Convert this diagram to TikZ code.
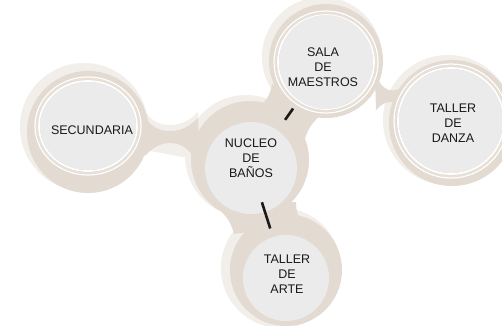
\documentclass[tikz,border=0pt]{standalone}
\usepackage{fontspec}
\setmainfont{Liberation Sans}
\definecolor{beige}{HTML}{E3DAD1}
\definecolor{halo}{HTML}{F2EEEA}
\definecolor{discc}{HTML}{EBEBEB}
\definecolor{ringc}{HTML}{E8E1DA}
\begin{document}
\begin{tikzpicture}[x=1pt,y=-1pt,
  lbl/.style={font=\fontsize{12.5}{15}\selectfont, align=center, text=black!90, inner sep=0pt},
  disc/.style={circle, fill=discc, inner sep=0pt, minimum size=#1},
  stub/.style={line width=2.6pt, black!90}]
\useasboundingbox (0,0) rectangle (502,325);
\fill[white] (0,0) rectangle (502,325);
% halos
\fill[halo] (84,127) circle (64);
\fill[halo] (246,156) circle (61);
\fill[halo] (322,57) circle (60);
\fill[halo] (448,120) circle (65);
\fill[halo] (281,268) circle (60);
\fill[halo] (143,109) .. controls (152,122) and (160,125) .. (170,125) .. controls (182,125) and (190,120) .. (198,112) -- (200,160) -- (145,150) -- cycle;
% beige blobs
\fill[beige] (88,132) circle (61);
\fill[beige] (250,160) circle (59);
\fill[beige] (326,61) circle (57);
\fill[beige] (452,123) circle (63);
\fill[beige] (286,270) circle (56);
% bridges
\fill[beige] (143,115) .. controls (152,128) and (160,131) .. (170,131) .. controls (182,131) and (190,126) .. (198,118) -- (200,168) .. controls (192,150) and (182,143) .. (170,143) .. controls (160,143) and (152,148) .. (145,156) -- cycle;
\fill[beige] (375,75) .. controls (382,88) and (388,92) .. (396,90) .. controls (400,89) and (402,86) .. (404,82) -- (404,112) .. controls (400,104) and (396,102) .. (390,102) .. controls (384,102) and (380,106) .. (376,110) -- cycle;
\fill[beige] (250,112) .. controls (266,104) and (270,96) .. (272,84) -- (332,110) .. controls (316,116) and (308,126) .. (304,142) -- cycle;
\fill[beige] (212,204) .. controls (226,214) and (231,222) .. (234,234) -- (302,224) .. controls (298,216) and (296,212) .. (296,202) -- cycle;
% rings
\foreach \cx/\cy/\rx/\ry in {88/126/48/44, 326/62/47/46, 451/121/52/52}{
  \draw[white, line width=1.2pt] (\cx,\cy) ellipse [x radius=\rx+5, y radius=\ry+5];
  \draw[ringc, line width=1.5pt] (\cx,\cy) ellipse [x radius=\rx+3.2, y radius=\ry+3.2];
  \draw[white, line width=1.8pt] (\cx,\cy) ellipse [x radius=\rx+1, y radius=\ry+1];
}
% discs
\fill[discc] (88,126) ellipse [x radius=48, y radius=44];
\node[disc=94] (salaD) at (326,62) {};
\node[disc=104] (danzaD) at (451,121) {};
\node[disc=92] (nucD) at (251,168) {};
\node[disc=86] (arteD) at (286,278) {};
% labels
\node[lbl] (sec) at (92,130) {SECUNDARIA};
\node[lbl] (nuc) at (251,158) {NUCLEO\\DE\\BAÑOS};
\node[lbl] (sala) at (323,67) {SALA\\DE\\MAESTROS};
\node[lbl] (danza) at (453,123) {TALLER\\DE\\DANZA};
\node[lbl] (arte) at (287,274) {TALLER\\DE\\ARTE};
% connector stubs
\draw[stub, shorten <=59pt, shorten >=57pt] (nucD.center) -- (salaD.center);
\draw[stub, shorten <=36pt, shorten >=52pt] (nucD.center) -- (arteD.center);
\end{tikzpicture}
\end{document}
